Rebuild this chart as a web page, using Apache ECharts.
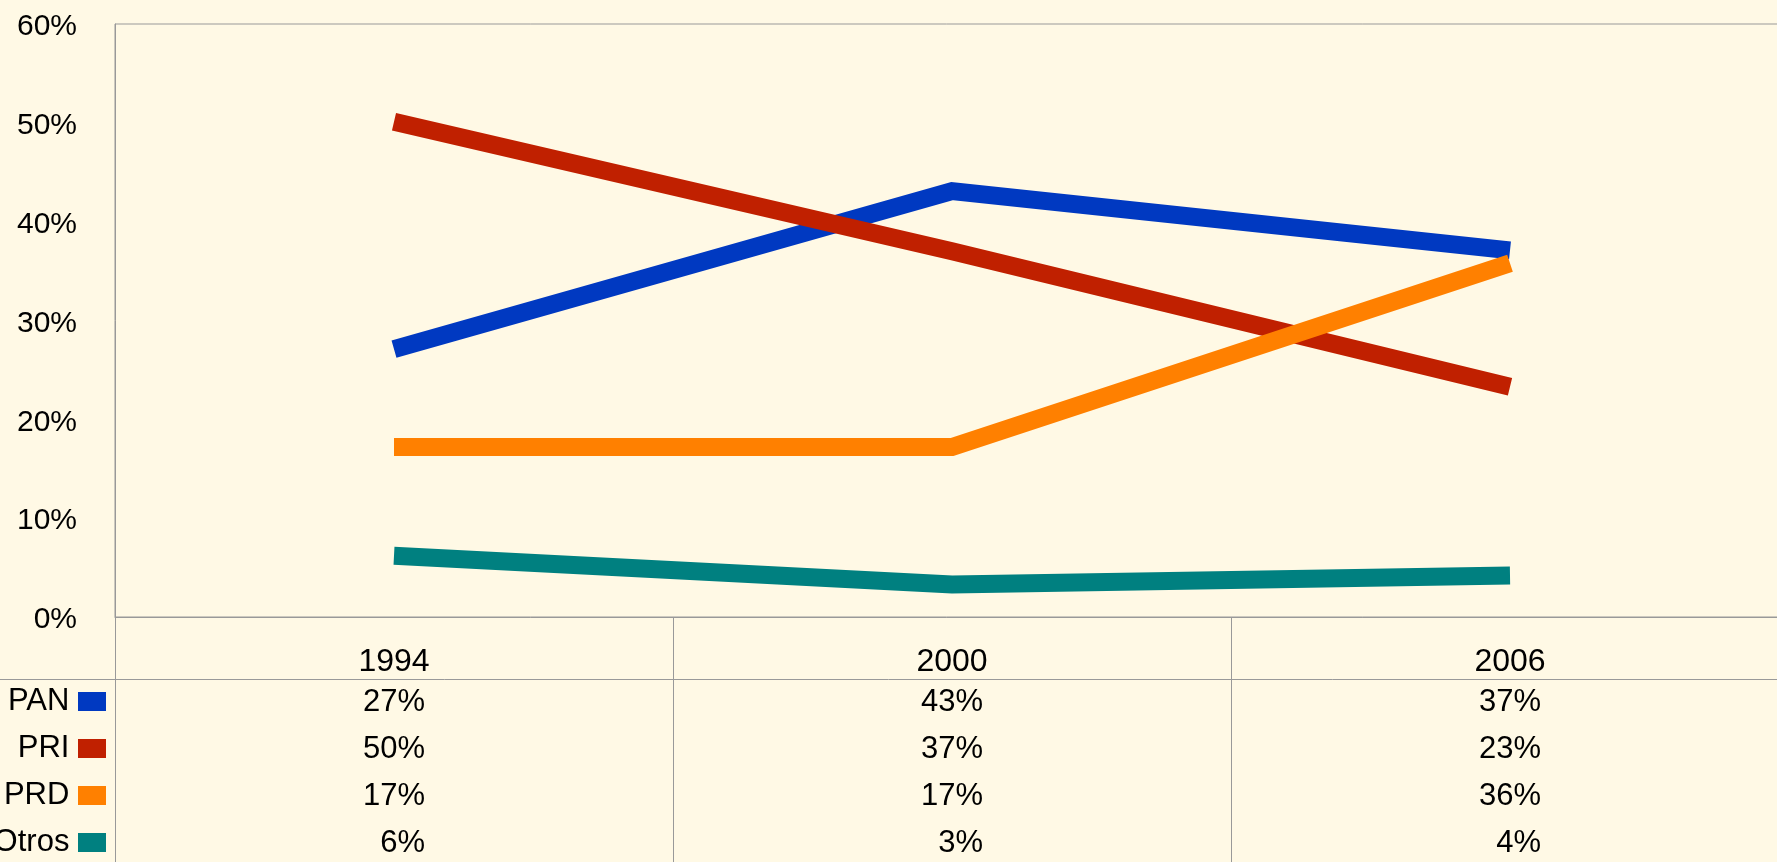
<!DOCTYPE html>
<html><head><meta charset="utf-8">
<script src="https://cdn.jsdelivr.net/npm/echarts/dist/echarts.min.js"></script>
<style>html,body{margin:0;padding:0;background:#FFF9E5;}#c{width:1777px;height:862px;}</style>
</head><body><div id="c"></div>
<script>
const categories = ['1994', '2000', '2006'];
const seriesNames = ['PAN', 'PRI', 'PRD', 'Otros'];
const PAN = [27.1, 43.1, 37.1];
const PRI = [50.1, 37.0, 23.3];
const PRD = [17.2, 17.2, 35.8];
const Otros = [6.2, 3.3, 4.2];
const yMin = 0, yMax = 60, yStep = 10;
const colors = ['#0039C1', '#C02000', '#FF8000', '#008080'];

const allValues = [PAN, PRI, PRD, Otros];
const FONT = 'Liberation Sans, Arial, sans-serif';
const rich = {};
colors.forEach((c, i) => { rich['b' + i] = { width: 28, height: 19, backgroundColor: c }; });

const series = [];
allValues.forEach((vals, s) => {
  series.push({
    type: 'line', name: seriesNames[s], xAxisIndex: 0, yAxisIndex: 0,
    data: vals, symbol: 'none', silent: true,
    lineStyle: { width: 18, color: colors[s], cap: 'butt', join: 'miter' },
    itemStyle: { color: colors[s] }
  });
});
allValues.forEach((vals, s) => {
  series.push({
    type: 'scatter', xAxisIndex: 1, yAxisIndex: 1, symbolSize: 1, silent: true,
    itemStyle: { color: '#FFF9E5', opacity: 1 },
    data: vals.map((v, i) => [i, s, v]),
    label: {
      show: true, position: 'inside', align: 'right', verticalAlign: 'middle',
      offset: [31, 1], fontSize: 31, color: '#000', opacity: 1,
      textBorderWidth: 0, fontFamily: FONT,
      formatter: p => Math.round(p.value[2]) + '%'
    }
  });
});

const chart = echarts.init(document.getElementById('c'));
chart.setOption({
  backgroundColor: '#FFF9E5',
  animation: false,
  textStyle: { fontFamily: FONT },
  grid: [
    { left: 115, top: 24, width: 1674, height: 593, show: true, borderColor: '#999', borderWidth: 1, backgroundColor: 'transparent', containLabel: false, outerBoundsMode: 'none' },
    { left: 115, top: 678, width: 1674, height: 188, containLabel: false, outerBoundsMode: 'none' }
  ],
  xAxis: [
    {
      gridIndex: 0, type: 'category', data: categories, boundaryGap: true,
      axisLine: { show: true, lineStyle: { color: '#999', width: 1 } },
      axisTick: { show: true, length: 260, lineStyle: { color: '#999', width: 1 } },
      axisLabel: { margin: 29, fontSize: 32, color: '#000', fontFamily: FONT }
    },
    { gridIndex: 1, type: 'category', data: categories, boundaryGap: true, show: false }
  ],
  yAxis: [
    {
      gridIndex: 0, type: 'value', min: yMin, max: yMax, interval: yStep,
      axisLine: { show: true, lineStyle: { color: '#999' } },
      axisTick: { show: false }, splitLine: { show: false },
      axisLabel: {
        formatter: v => '{a|' + v + '%}', margin: 38, fontSize: 30, color: '#000', fontFamily: FONT,
        rich: { a: { fontSize: 30, color: '#000', fontFamily: FONT, padding: [6, 0, 0, 0] } }
      }
    },
    {
      gridIndex: 1, type: 'category', inverse: true, data: seriesNames,
      axisLine: { show: true, lineStyle: { color: '#999' } },
      axisTick: { show: false }, splitLine: { show: false },
      axisLabel: {
        margin: 9, fontSize: 31, color: '#000', fontFamily: FONT,
        formatter: (v, i) => v + ' {b' + i + '|}', rich: rich
      }
    }
  ],
  graphic: [
    { type: 'line', shape: { x1: 0, y1: 679.5, x2: 1777, y2: 679.5 }, style: { stroke: '#999', lineWidth: 1 }, silent: true }
  ],
  series: series
});
</script>
</body></html>
